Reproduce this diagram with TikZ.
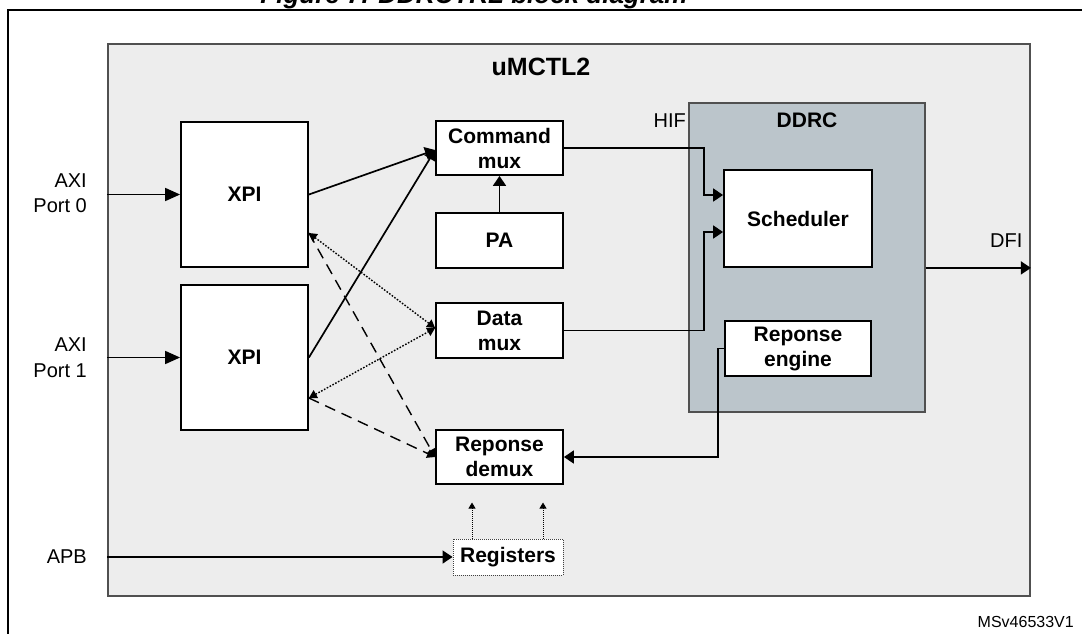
\documentclass[tikz,border=0pt]{standalone}
\usepackage{fontspec}
\setmainfont{Liberation Sans}
\usetikzlibrary{arrows.meta}

\definecolor{panelgray}{RGB}{237,237,237}
\definecolor{ddrcblue}{RGB}{187,197,203}
\definecolor{edgegray}{RGB}{80,80,80}

\tikzset{
  blk/.style={draw=black, line width=1.8pt, fill=white, align=center, inner sep=0pt,
              font=\bfseries\fontsize{21}{25}\selectfont},
  lbl/.style={font=\fontsize{20}{24}\selectfont, inner sep=0pt},
  arr/.style={line width=1.7pt, -{Triangle[length=10pt,width=13pt]}},
  bigarr/.style={line width=1.7pt, -{Triangle[length=15pt,width=13pt]}},
  dotline/.style={line width=1.4pt, dash pattern=on 1.6pt off 1.6pt,
                  {Triangle[length=8pt,width=9pt]}-{Triangle[length=8pt,width=9pt]}},
  dashline/.style={line width=1.4pt, dash pattern=on 11pt off 7pt,
                   -{Triangle[length=8pt,width=9pt]}},
  regarr/.style={line width=0.9pt, dash pattern=on 1pt off 1pt,
                 -{Triangle[length=6pt,width=7pt]}},
}

\begin{document}
\begin{tikzpicture}[x=1pt,y=-1pt]
  % page area
  \path[use as bounding box, clip] (0,0) rectangle (1082,633);
  \fill[white] (0,0) rectangle (1082,633);

  % figure caption and outer frame
  \node[anchor=base, inner sep=0pt, font=\bfseries\itshape\fontsize{26}{30}\selectfont]
    (title) at (474,3) {Figure 7. DDRCTRL block diagram};
  \draw[line width=2.5pt] (8,10) rectangle (1110,660);

  % controller panel
  \node[draw=edgegray, line width=1.8pt, fill=panelgray, inner sep=0pt,
        minimum width=922pt, minimum height=552pt] (umctl) at (569,320) {};
  \node[anchor=base, inner sep=0pt, font=\bfseries\fontsize{25}{30}\selectfont]
    (umlabel) at (541,75) {uMCTL2};

  % DDRC sub-block
  \node[draw=edgegray, line width=1.3pt, fill=ddrcblue, inner sep=0pt,
        minimum width=236pt, minimum height=309pt] (ddrc) at (807,257.5) {};
  \node[anchor=base, inner sep=0pt, font=\bfseries\fontsize{21}{24}\selectfont]
    (ddrclabel) at (807,127) {DDRC};
  \node[lbl, anchor=base east] (hif) at (686,127) {HIF};

  % blocks
  \node[blk, minimum width=127pt, minimum height=145pt] (xpi0) at (244.5,194.5) {XPI};
  \node[blk, minimum width=127pt, minimum height=145pt] (xpi1) at (244.5,357.5) {XPI};
  \node[blk, minimum width=127pt, minimum height=54pt] (cmd) at (499.5,148) {Command\\mux};
  \node[blk, minimum width=127pt, minimum height=55pt] (pa) at (499.5,240.5) {PA};
  \node[blk, minimum width=127pt, minimum height=55pt] (dmux) at (499.5,330.5) {Data\\mux};
  \node[blk, minimum width=127pt, minimum height=54pt] (rdemux) at (499.5,457) {Reponse\\demux};
  \node[blk, minimum width=148pt, minimum height=97pt] (sched) at (798,218.5) {Scheduler};
  \node[blk, minimum width=146pt, minimum height=55pt] (reng) at (798,348.5) {Reponse\\engine};
  \node[blk, draw=black!75, line width=0.9pt, dash pattern=on 1pt off 1pt,
        minimum width=110pt, minimum height=36pt] (regs) at (508,557) {Registers};

  % interface labels
  \node[lbl, anchor=base east] (p0a) at (87,187) {AXI};
  \node[lbl, anchor=base east] (p0b) at (87,212) {Port 0};
  \node[lbl, anchor=base east] (p1a) at (87,351) {AXI};
  \node[lbl, anchor=base east] (p1b) at (87,377) {Port 1};
  \node[lbl, anchor=base east] (apb) at (87,563) {APB};
  \node[lbl, anchor=base west] (dfi) at (990,247) {DFI};
  \node[anchor=base east, inner sep=0pt, font=\fontsize{16}{19}\selectfont]
    (docid) at (1074,627) {MSv46533V1};

  % external ports
  \draw[bigarr] (umctl.west |- xpi0.west) -- (xpi0.west);
  \draw[bigarr] (umctl.west |- xpi1.west) -- (xpi1.west);
  \draw[arr] (umctl.west |- regs.west) -- (regs.west);
  \draw[arr] (ddrc.east |- sched.south) -- (umctl.east |- sched.south);

  % command path
  \draw[arr] (xpi0.east) -- ([yshift=-2pt]cmd.west);
  \draw[arr] (xpi1.east) -- ([yshift=-2pt]cmd.west);
  \draw[arr] (pa.north) -- (cmd.south);
  \draw[arr] (cmd.east) -- ++(140,0) |- ([yshift=23.5pt]sched.west);
  \draw[arr] (dmux.east) -- ++(140,0) |- ([yshift=-13.5pt]sched.west);

  % response path
  \draw[arr] (reng.west) -- ++(-6,0) |- (rdemux.east);

  % write/read data (dotted) and responses (dashed)
  \draw[dotline] ([yshift=-38.5pt]xpi0.east) -- ([yshift=2.5pt]dmux.west);
  \draw[dotline] ([yshift=-40.5pt]xpi1.east) -- ([yshift=2.5pt]dmux.west);
  \draw[dashline] ([yshift=-38.5pt]xpi0.east) -- (rdemux.west);
  \draw[dashline] ([yshift=-40.5pt]xpi1.east) -- (rdemux.west);

  % register outputs
  \coordinate (rega) at ([xshift=-36pt]regs.north);
  \coordinate (regb) at ([xshift=35pt]regs.north);
  \draw[regarr] (rega) -- ++(0,-36);
  \draw[regarr] (regb) -- ++(0,-36);
\end{tikzpicture}
\end{document}
